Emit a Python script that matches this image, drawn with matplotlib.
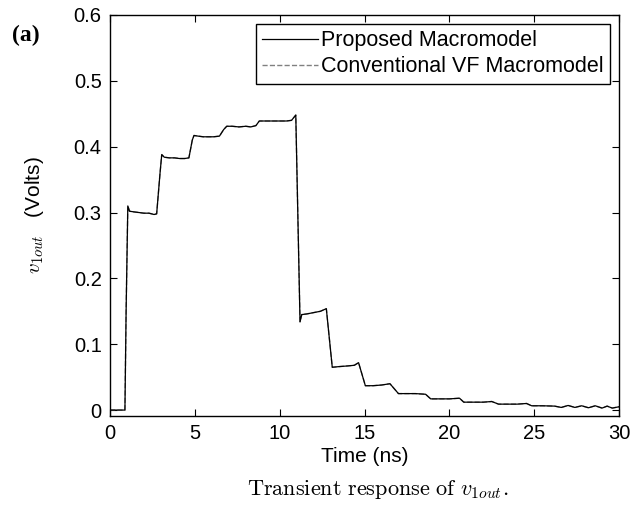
import matplotlib
matplotlib.use('Agg')
import matplotlib.pyplot as plt

plt.rcParams['font.family'] = ['Liberation Sans', 'DejaVu Sans']
plt.rcParams['mathtext.fontset'] = 'cm'

# transient response (time in ns, voltage in V)
time_ns = [0.0, 0.88, 0.95, 1.05, 1.15, 1.4, 1.7, 2.0, 2.3, 2.6, 2.75,
           2.95, 3.05, 3.2, 3.5, 3.8, 4.1, 4.4, 4.65,
           4.85, 4.95, 5.2, 5.5, 5.8, 6.1, 6.45,
           6.7, 6.88, 7.2, 7.6, 8.0, 8.3, 8.6,
           8.8, 9.2, 9.6, 10.0, 10.4, 10.7, 10.95,
           11.2, 11.3, 11.6, 12.0, 12.4, 12.75,
           13.1, 13.5, 14.0, 14.4, 14.65,
           15.05, 15.5, 16.0, 16.5,
           17.0, 17.5, 18.0, 18.6,
           18.9, 19.5, 20.0, 20.6,
           20.85, 21.5, 22.0, 22.5,
           22.9, 23.5, 24.0, 24.55,
           24.85, 25.5, 26.2, 26.6, 27.0, 27.4, 27.8, 28.2, 28.6,
           29.0, 29.3, 29.6, 30.0]
v_proposed = [0.0, 0.0, 0.15, 0.31, 0.302, 0.301, 0.300, 0.299, 0.299, 0.297, 0.298,
              0.36, 0.388, 0.384, 0.383, 0.383, 0.382, 0.382, 0.383,
              0.41, 0.417, 0.416, 0.415, 0.415, 0.415, 0.416,
              0.426, 0.431, 0.431, 0.430, 0.431, 0.430, 0.432,
              0.439, 0.439, 0.439, 0.439, 0.439, 0.440, 0.448,
              0.134, 0.145, 0.146, 0.148, 0.150, 0.154,
              0.065, 0.066, 0.067, 0.068, 0.072,
              0.037, 0.037, 0.038, 0.040,
              0.025, 0.025, 0.025, 0.024,
              0.017, 0.017, 0.017, 0.018,
              0.012, 0.012, 0.012, 0.013,
              0.009, 0.009, 0.009, 0.010,
              0.0065, 0.0065, 0.006, 0.004, 0.007, 0.004, 0.0065, 0.0035, 0.0065,
              0.003, 0.006, 0.003, 0.005]
v_conventional = list(v_proposed)

fig = plt.figure(figsize=(6.44, 5.13), dpi=100)
ax = fig.add_axes([0.1708, 0.1891, 0.7904, 0.7817])

ax.plot(time_ns, v_conventional, '--', color='#808080', lw=1.0,
        label='Conventional VF Macromodel', zorder=2)
ax.plot(time_ns, v_proposed, '-', color='black', lw=0.9,
        label='Proposed Macromodel', zorder=3)

ax.set_xlim(0, 30)
ax.set_ylim(-0.009, 0.6)
ax.set_xticks([0, 5, 10, 15, 20, 25, 30])
ax.set_yticks([0, 0.1, 0.2, 0.3, 0.4, 0.5, 0.6])
ax.set_yticklabels(['0', '0.1', '0.2', '0.3', '0.4', '0.5', '0.6'])
ax.tick_params(direction='in', top=True, right=True, labelsize=14.5,
               length=5, width=0.8, pad=6)
for s in ax.spines.values():
    s.set_linewidth(1.0)

ax.set_xlabel('Time (ns)', fontsize=15, labelpad=3)
ax.set_ylabel(r'$v_{1out}$   (Volts)', fontsize=15, labelpad=20)

handles, labels = ax.get_legend_handles_labels()
leg = ax.legend(handles[::-1], labels[::-1], loc='upper right', fontsize=15.5,
                fancybox=False, edgecolor='black', framealpha=1,
                handlelength=2.6, handletextpad=0.15, borderpad=0.3,
                labelspacing=0.25, borderaxespad=0.4)
leg.get_frame().set_linewidth(1.0)

fig.text(0.018, 0.92, '(a)', fontsize=17, fontweight='bold',
         family='Liberation Serif')
fig.text(0.587, 0.035, r'$\mathrm{Transient\ response\ of\ }v_{1out}\mathrm{.}$',
         fontsize=16, ha='center')

fig.savefig('out.png', dpi=100)
